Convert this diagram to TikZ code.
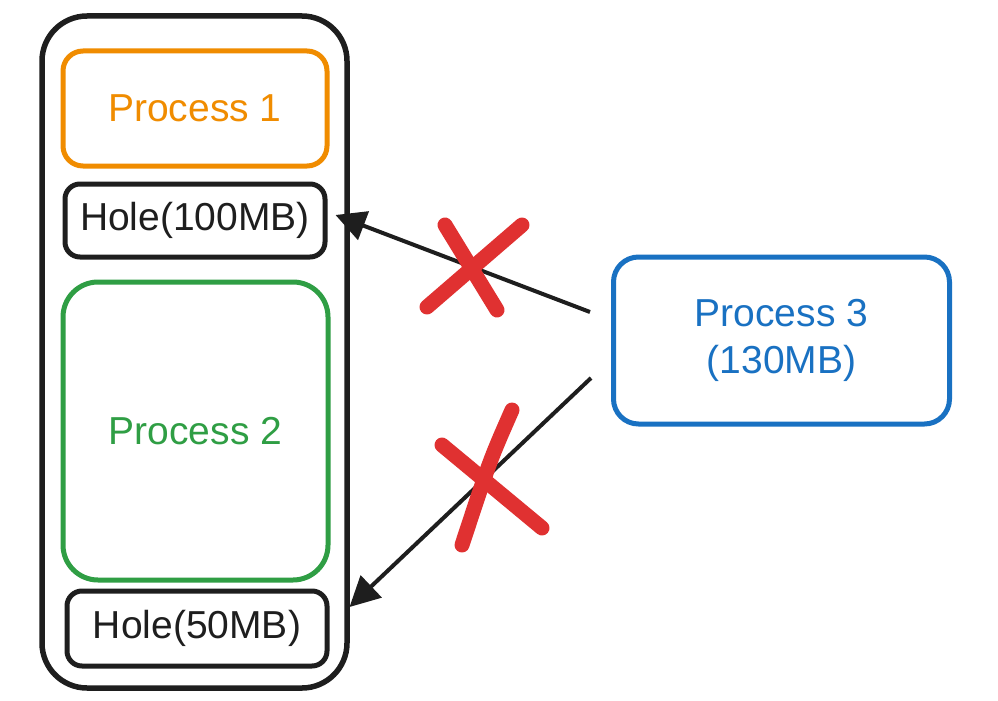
\documentclass[tikz,border=0pt]{standalone}
\usepackage{fontspec}
\setmainfont{Liberation Sans}
\usetikzlibrary{arrows.meta,calc}
\definecolor{exblack}{HTML}{1E1E1E}
\definecolor{exorange}{HTML}{F08C00}
\definecolor{exgreen}{HTML}{2F9E44}
\definecolor{exblue}{HTML}{1971C2}
\definecolor{exred}{HTML}{E03131}
\tikzset{
  box/.style={draw, line width=5pt, fill=white, inner sep=0pt, font=\fontsize{39}{47}\selectfont, align=center},
  conn/.style={draw=exblack, line width=4pt, -{Triangle[length=30pt,width=30pt]}},
  cross/.style={draw=exred, line width=15pt, line cap=round},
}
\begin{document}
\begin{tikzpicture}[x=1pt,y=-1pt]
\useasboundingbox[fill=white] (0,0) rectangle (998,701);
% outer memory box
\node[box, draw=exblack, fill=none, line width=5.5pt, rounded corners=45pt, minimum width=305pt, minimum height=672pt] (mem) at (194.5,352) {};
% processes and holes
\node[box, draw=exorange, text=exorange, rounded corners=20pt, minimum width=264pt, minimum height=115pt] (p1) at (195,108.5) {Process 1};
\node[box, draw=exblack, text=exblack, rounded corners=15pt, minimum width=260pt, minimum height=73pt] (h1) at (195,220.5) {Hole(100MB)};
\node[box, draw=exgreen, text=exgreen, rounded corners=35pt, minimum width=265pt, minimum height=298pt] (p2) at (195.5,431) {Process 2};
\node[box, draw=exblack, text=exblack, rounded corners=15pt, minimum width=260pt, minimum height=75pt] (h2) at (197,628.5) {Hole(50MB)};
\node[box, draw=exblue, text=exblue, rounded corners=25pt, minimum width=336pt, minimum height=167pt] (p3) at (781.5,340.5) {Process 3\\(130MB)};
% connectors
\draw[conn] ([xshift=-21pt,yshift=28.5pt]p3.west) -- ([xshift=8pt,yshift=5.5pt]h1.east);
\draw[conn] ([xshift=-20pt,yshift=-37.5pt]p3.west) -- ([xshift=20pt,yshift=21.5pt]h2.east);
% red crosses
\draw[cross] (427,307) -- (522,225);
\draw[cross] (445,225) -- (497,310);
\draw[cross] (512,410) .. controls (490,460) .. (462,545);
\draw[cross] (442,445) -- (542,528);
\end{tikzpicture}
\end{document}
